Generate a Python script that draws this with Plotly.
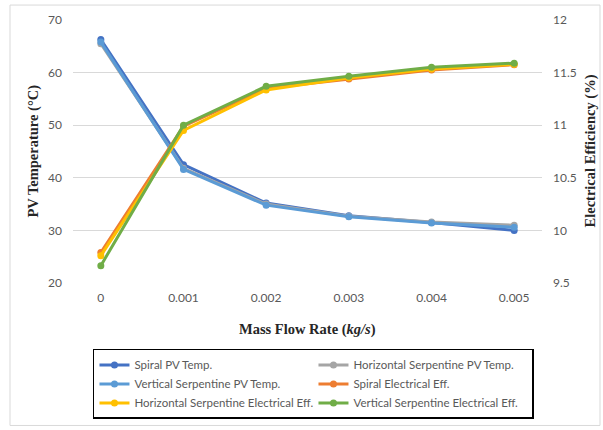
import plotly.graph_objects as go

flow_rates = ["0", "0.001", "0.002", "0.003", "0.004", "0.005"]

spiral_pv_temp = [66.3, 42.5, 35.2, 32.8, 31.5, 30.0]
horizontal_pv_temp = [65.5, 41.8, 35.0, 32.7, 31.6, 31.0]
vertical_pv_temp = [65.8, 41.6, 34.8, 32.6, 31.4, 30.6]

spiral_eff = [9.79, 10.99, 11.35, 11.44, 11.525, 11.575]
horizontal_eff = [9.76, 10.95, 11.335, 11.45, 11.535, 11.58]
vertical_eff = [9.665, 11.0, 11.37, 11.465, 11.55, 11.59]

left_ticks = [20, 30, 40, 50, 60, 70]
right_ticks = [9.5, 10, 10.5, 11, 11.5, 12]

series = [
    ("Spiral PV Temp.", spiral_pv_temp, "#4472C4", "y"),
    ("Horizontal Serpentine PV Temp.", horizontal_pv_temp, "#A5A5A5", "y"),
    ("Vertical Serpentine PV Temp.", vertical_pv_temp, "#5B9BD5", "y"),
    ("Spiral Electrical Eff.", spiral_eff, "#ED7D31", "y2"),
    ("Horizontal Serpentine Electrical Eff.", horizontal_eff, "#FFC000", "y2"),
    ("Vertical Serpentine Electrical Eff.", vertical_eff, "#70AD47", "y2"),
]

fig = go.Figure()
for name, vals, color, ax in series:
    fig.add_trace(go.Scatter(
        x=flow_rates, y=vals, name=name, yaxis=ax,
        mode="lines+markers",
        line=dict(color=color, width=3),
        marker=dict(color=color, size=7),
    ))

tick_font = dict(family="Lato, Open Sans, sans-serif", size=12, color="#595959")
title_font = dict(family="Liberation Serif, Times New Roman, serif", size=14.5, color="#262626")

fig.update_layout(
    width=603, height=430,
    margin=dict(l=73, r=61, t=20, b=146),
    paper_bgcolor="white", plot_bgcolor="white",
    showlegend=True,
    xaxis=dict(type="category", tickfont=tick_font, showgrid=False,
               showline=False, zeroline=False, ticks="", ticklabelstandoff=6),
    yaxis=dict(range=[20, 70], tickvals=left_ticks, tickfont=tick_font,
               showgrid=True, gridcolor="#D9D9D9", gridwidth=1,
               zeroline=False, showline=False, ticks="", ticklabelstandoff=10),
    yaxis2=dict(range=[9.5, 12], tickvals=right_ticks, tickfont=tick_font,
                overlaying="y", side="right", showgrid=False,
                zeroline=False, showline=False, ticks="", ticklabelstandoff=10),
    legend=dict(orientation="h", x=0.0426, y=-0.246, xanchor="left", yanchor="top",
                bordercolor="#000000", borderwidth=1.5, bgcolor="white",
                font=dict(family="Lato, Open Sans, sans-serif", size=11.5, color="#595959"),
                entrywidth=174, itemwidth=30, traceorder="normal"),
    shapes=[dict(type="rect", xref="paper", yref="paper",
                 x0=-0.1343, x1=1.1237, y0=-0.5417, y1=1.0568,
                 line=dict(color="#D9D9D9", width=1), fillcolor="rgba(0,0,0,0)")],
    annotations=[
        dict(text="<b>PV Temperature (°C)</b>", xref="paper", yref="paper",
             x=(33 - 73) / 469, y=0.5, textangle=-90, showarrow=False,
             xanchor="center", yanchor="middle", font=title_font),
        dict(text="<b>Electrical Efficiency (%)</b>", xref="paper", yref="paper",
             x=(590 - 73) / 469, y=0.5, textangle=-90, showarrow=False,
             xanchor="center", yanchor="middle", font=title_font),
        dict(text="<b>Mass Flow Rate (<i>kg/s</i>)</b>", xref="paper", yref="paper",
             x=(307 - 73) / 469, y=(284 - 331) / 264, showarrow=False,
             xanchor="center", yanchor="middle", font=title_font),
    ],
)

fig.write_html("out.html")
